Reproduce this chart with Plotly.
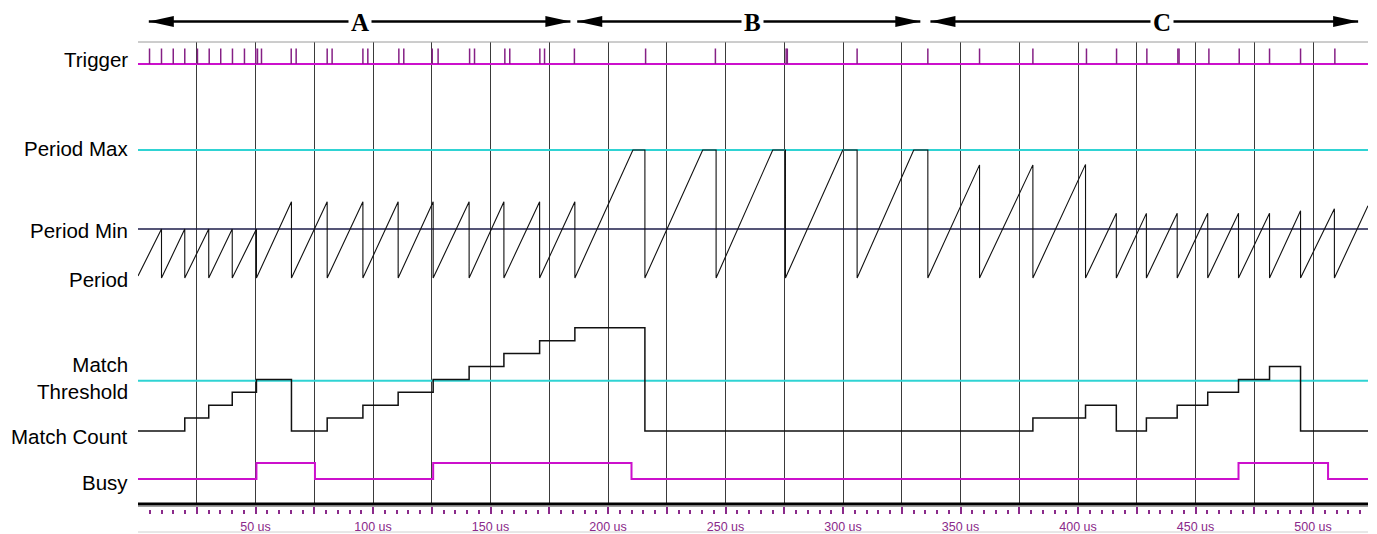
import plotly.graph_objects as go

# ---------------- data (time in microseconds) ----------------
trigger_times = [4.9, 10.0, 15.0, 19.9, 25.3, 30.3, 35.2, 40.2, 45.3, 50.1, 50.85, 52.55,
                 65.2, 67.3, 80.5, 82.6, 95.7, 97.8, 111.0, 113.1, 125.2, 127.7,
                 141.1, 143.2, 156.1, 158.2, 171.0, 173.0, 185.7,
                 216.0, 245.7, 275.8, 276.3, 306.0, 336.1, 358.1, 380.8,
                 403.6, 416.4, 429.3, 442.5, 443.0, 455.7, 468.6, 481.5, 494.7, 509.3]

period_t = [0, 10.0, 10.0, 19.9, 19.9, 30.1, 30.1, 40.1, 40.1, 50.4, 50.4,
            65.3, 65.3, 80.5, 80.5, 95.7, 95.7, 110.7, 110.7, 125.6, 125.6,
            140.9, 140.9, 155.7, 155.7, 170.9, 170.9, 185.9, 185.9,
            210.6, 215.7, 215.7, 240.3, 246.0, 246.0, 270.1, 275.5, 275.5,
            299.9, 306.0, 306.0, 330.1, 336.1, 336.1,
            358.1, 358.1, 380.8, 380.8, 403.2, 403.2,
            416.3, 416.3, 429.1, 429.1, 442.2, 442.2, 455.2, 455.2, 468.3, 468.3,
            481.5, 481.5, 494.7, 494.7, 509.1, 509.1, 523.4]
period_v = [0.4, 9.7, 0, 9.7, 0, 9.7, 0, 9.7, 0, 9.7, 0,
            15.1, 0, 15.1, 0, 15.1, 0, 15.1, 0, 15.1, 0,
            15.1, 0, 15.1, 0, 15.1, 0, 15.1, 0,
            25.35, 25.35, 0, 25.35, 25.35, 0, 25.35, 25.35, 0,
            25.35, 25.35, 0, 25.35, 25.35, 0,
            22.4, 0, 22.4, 0, 22.5, 0,
            12.8, 0, 12.8, 0, 12.8, 0, 12.8, 0, 12.8, 0,
            12.8, 0, 13.3, 0, 13.7, 0, 14.3]

PERIOD_MAX = 25.35
PERIOD_MIN = 9.7

match_t = [0, 19.9, 30.1, 40.1, 50.4, 65.3, 80.5, 95.7, 110.7, 125.6, 140.9, 155.7,
           170.9, 185.9, 215.7, 380.8, 403.2, 416.3, 429.1, 442.2, 455.2, 468.3,
           481.5, 494.7, 523.4]
match_v = [0, 1, 2, 3, 4, 0, 1, 2, 3, 4, 5, 6, 7, 8, 0, 1, 2, 0, 1, 2, 3, 4, 5, 0, 0]
MATCH_THRESHOLD = 3.9

busy_t = [0, 50.4, 75.3, 125.6, 210.0, 468.3, 506.4, 523.4]
busy_v = [0, 1, 0, 1, 0, 1, 0, 0]

tick_vals = [25, 50, 75, 100, 125, 150, 175, 200, 225, 250, 275, 300, 325, 350,
             375, 400, 425, 450, 475, 500]
tick_text = ["" if v % 50 else f"{v} us" for v in tick_vals]

segments = [("A", 4.6, 184.0, 94.3), ("B", 186.9, 332.9, 261.5), ("C", 337.2, 519.2, 435.9)]

row_labels = [("Trigger", 59.5), ("Period Max", 148.5), ("Period Min", 230.5),
              ("Period", 279.5), ("Match<br>Threshold", 377.5), ("Match Count", 436),
              ("Busy", 482.5)]

XMAX = 523.4

# ---------------- layout geometry ----------------
# positions below are in window pixels; the page body has an 8px margin
OFF = 8
W, H = 1377 - OFF, 534 - OFF
ML, MR = 138 - OFF, 9
MT = 42 - OFF
AXIS_PIX = 514            # window y of the tick axis
MB = H - (AXIS_PIX - OFF)
PLOT_H = H - MT - MB
TOP_PIX, BOT_PIX = 42, 505


def frac(pix):
    return (H - MB - (pix - OFF)) / PLOT_H


def row_axis(top, bot, p0, s):
    return dict(domain=[frac(bot), frac(top)], range=[(p0 - bot) / s, (p0 - top) / s],
                visible=False, anchor="x", fixedrange=True)


CYAN = "#2FD3D3"
MAGENTA = "#CC10CC"
PURPLE = "#852085"
TICKPURPLE = "#8A2A8A"

fig = go.Figure()

# trigger baseline + pulses
fig.add_trace(go.Scatter(x=[0, XMAX], y=[0, 0], yaxis="y2", mode="lines",
                         line=dict(color=MAGENTA, width=2), hoverinfo="skip"))
px, py = [], []
for t in trigger_times:
    px += [t, t, None]
    py += [0, 1, None]
fig.add_trace(go.Scatter(x=px, y=py, yaxis="y2", mode="lines",
                         line=dict(color=PURPLE, width=1.5), hoverinfo="skip"))

# period
fig.add_trace(go.Scatter(x=[0, XMAX], y=[PERIOD_MAX, PERIOD_MAX], yaxis="y3", mode="lines",
                         line=dict(color=CYAN, width=2), hoverinfo="skip"))
fig.add_trace(go.Scatter(x=[0, XMAX], y=[PERIOD_MIN, PERIOD_MIN], yaxis="y3", mode="lines",
                         line=dict(color="#1C1C4A", width=1.5), hoverinfo="skip"))
fig.add_trace(go.Scatter(x=period_t, y=period_v, yaxis="y3", mode="lines",
                         line=dict(color="#111111", width=1.1), hoverinfo="skip"))

# match
fig.add_trace(go.Scatter(x=[0, XMAX], y=[MATCH_THRESHOLD, MATCH_THRESHOLD], yaxis="y4",
                         mode="lines", line=dict(color=CYAN, width=2), hoverinfo="skip"))
fig.add_trace(go.Scatter(x=match_t, y=match_v, yaxis="y4", mode="lines", line_shape="hv",
                         line=dict(color="#111111", width=1.5), hoverinfo="skip"))

# busy
fig.add_trace(go.Scatter(x=busy_t, y=busy_v, yaxis="y5", mode="lines", line_shape="hv",
                         line=dict(color=MAGENTA, width=2), hoverinfo="skip"))

shapes = []
shapes.append(dict(type="line", xref="paper", yref="paper", x0=0, x1=1,
                   y0=frac(TOP_PIX), y1=frac(TOP_PIX), line=dict(color="#9A9A9A", width=1)))
shapes.append(dict(type="line", xref="paper", yref="paper", x0=0, x1=1,
                   y0=frac(504), y1=frac(504), line=dict(color="black", width=3)))
shapes.append(dict(type="line", xref="paper", yref="paper", x0=0, x1=1,
                   y0=frac(506.5), y1=frac(506.5), line=dict(color="#A0A0A0", width=1)))
shapes.append(dict(type="line", xref="paper", yref="paper", x0=0, x1=1,
                   y0=frac(532), y1=frac(532), line=dict(color="#D0D0D0", width=1)))

annotations = []
YA = frac(21.5)
for name, t0, t1, tl in segments:
    shapes.append(dict(type="line", xref="x", yref="paper", x0=t0, x1=t1, y0=YA, y1=YA,
                       line=dict(color="black", width=2.5)))
    shapes.append(dict(type="path", xref="x", yref="paper", xsizemode="pixel",
                       ysizemode="pixel", xanchor=t1, yanchor=YA,
                       path="M0,0 L-25,5.5 L-25,-5.5 Z", fillcolor="black", line=dict(width=0)))
    shapes.append(dict(type="path", xref="x", yref="paper", xsizemode="pixel",
                       ysizemode="pixel", xanchor=t0, yanchor=YA,
                       path="M0,0 L25,5.5 L25,-5.5 Z", fillcolor="black", line=dict(width=0)))
    annotations.append(dict(x=tl, y=frac(22.5), xref="x", yref="paper", text=f"<b>{name}</b>",
                            showarrow=False, bgcolor="white", borderpad=2,
                            font=dict(family="Liberation Serif", size=25, color="black"),
                            xanchor="center", yanchor="middle"))

for text, pix in row_labels:
    annotations.append(dict(x=0, y=frac(pix), xref="paper", yref="paper", text=text,
                            showarrow=False, xanchor="right", yanchor="middle", xshift=-8,
                            align="right",
                            font=dict(family="Liberation Sans", size=20.5, color="black")))

fig.update_layout(
    width=W, height=H,
    margin=dict(l=ML, r=MR, t=MT, b=MB, autoexpand=False),
    paper_bgcolor="white", plot_bgcolor="white",
    showlegend=False,
    shapes=shapes,
    annotations=annotations,
    xaxis=dict(range=[0, XMAX], anchor="free", position=0, tickmode="array",
               tickvals=tick_vals, ticktext=tick_text, ticks="inside", ticklen=7,
               tickwidth=1.5, tickcolor=TICKPURPLE, showgrid=True, gridcolor="#3A3A3A",
               gridwidth=1.2, showline=False, zeroline=False, fixedrange=True,
               ticklabelstandoff=3,
               tickfont=dict(family="Liberation Sans", size=12.5, color=TICKPURPLE),
               minor=dict(dtick=5, tick0=0, ticks="inside", ticklen=4, tickwidth=1.5,
                          tickcolor=TICKPURPLE, showgrid=False)),
    yaxis=row_axis(TOP_PIX, 105, 64, 15.5),
    yaxis2=row_axis(TOP_PIX, 105, 64, 15.5),
    yaxis3=row_axis(105, 305, 278, 5.05),
    yaxis4=row_axis(305, 455, 431, 12.9),
    yaxis5=row_axis(455, BOT_PIX, 479, 16),
)

fig.write_html("out.html")
